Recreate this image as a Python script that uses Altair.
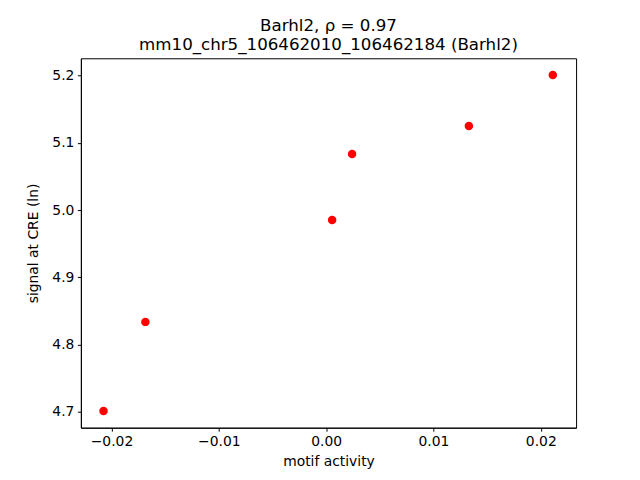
import altair as alt
import pandas as pd

motif_activity = [-0.02074, -0.01684, 0.00056, 0.00242, 0.01330, 0.02112]
signal = [4.7012, 4.8338, 4.9855, 5.0836, 5.1252, 5.2010]
x_ticks = [-0.02, -0.01, 0.0, 0.01, 0.02]
y_ticks = [4.7, 4.8, 4.9, 5.0, 5.1, 5.2]
title_lines = ["Barhl2, ρ = 0.97", "mm10_chr5_106462010_106462184 (Barhl2)"]

df = pd.DataFrame({"x": motif_activity, "y": signal})

FONT = "DejaVu Sans"

chart = alt.Chart(df).mark_point(filled=True, color="#ff0000", opacity=1, size=72).encode(
    x=alt.X("x:Q",
            scale=alt.Scale(domain=[-0.02285, 0.02329], nice=False, zero=False),
            axis=alt.Axis(title="motif activity", values=x_ticks, format=".2f",
                          labelExpr="replace(datum.label, '-', '−')")),
    y=alt.Y("y:Q",
            scale=alt.Scale(domain=[4.6764, 5.2259], nice=False, zero=False),
            axis=alt.Axis(title="signal at CRE (ln)", values=y_ticks, format=".1f",
                          titlePadding=11)),
).properties(
    width=496,
    height=370,
    autosize=alt.AutoSizeParams(type="none"),
    padding={"left": 73, "top": 50, "right": 56, "bottom": 45},
    title=alt.TitleParams(text=title_lines, fontSize=16.7, font=FONT, fontWeight="normal",
                          anchor="middle", lineHeight=19, offset=5, color="black"),
).configure_axis(
    grid=False,
    domainColor="black",
    tickColor="black",
    labelColor="black",
    titleColor="black",
    labelFont=FONT,
    titleFont=FONT,
    labelFontSize=13.9,
    titleFontSize=13.9,
    titleFontWeight="normal",
    tickSize=3.5,
    labelPadding=3.5,
    titlePadding=5.6,
    domainWidth=1,
    tickWidth=1,
).configure_view(
    stroke="black",
    strokeWidth=1,
)

chart.save("out.html", embed_options={"renderer": "svg", "actions": False})
